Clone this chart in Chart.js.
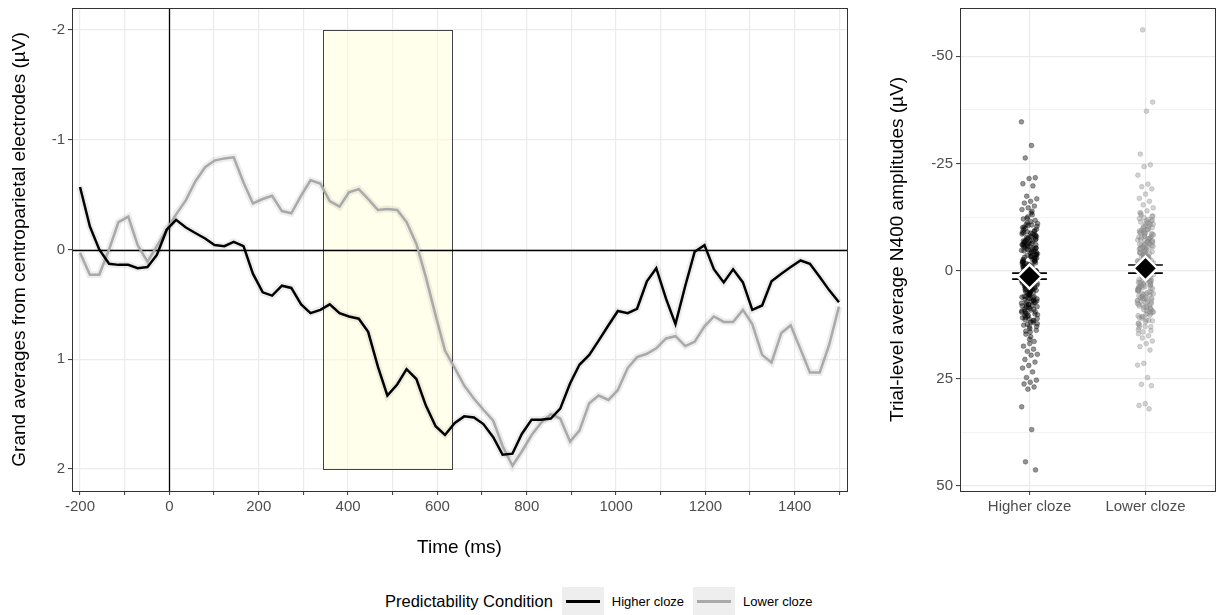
<!DOCTYPE html>
<html>
<head>
<meta charset="utf-8">
<title>N400 grand averages</title>
<script src="https://cdn.jsdelivr.net/npm/chart.js@4.4.0/dist/chart.umd.min.js"></script>
<style>
  body { margin: 0; background: #fff; font-family: "Liberation Sans", Arial, sans-serif; }
  #wrap { position: relative; width: 1225px; height: 615px; overflow: hidden; }
  #erpChart { position: absolute; left: 0; top: 0; }
  #trialChart { position: absolute; left: 870px; top: 0; }
  #legend { position: absolute; left: 385px; top: 587px; height: 28px; display: flex; align-items: center; color: #000; }
  #legend .title { font-size: 16.5px; margin-right: 9px; }
  #legend .key { width: 42px; height: 28px; background: #EEEEEE; position: relative; }
  #legend .key span { position: absolute; left: 4px; right: 4px; top: 13px; height: 2.5px; }
  #legend .lab { font-size: 13px; margin-left: 8px; margin-right: 9px; }
</style>
</head>
<body>
<div id="wrap">
  <canvas id="erpChart" width="860" height="570"></canvas>
  <canvas id="trialChart" width="355" height="570"></canvas>
  <div id="legend">
    <span class="title">Predictability Condition</span>
    <div class="key"><span style="background:#000"></span></div><span class="lab">Higher cloze</span>
    <div class="key"><span style="background:#A9A9A9"></span></div><span class="lab">Lower cloze</span>
  </div>
</div>
<script>
// ---- ERP panel data ----
const times = [-200, -178, -157, -135, -114, -92, -71, -49, -28, -6, 15, 37, 58, 80, 101, 123, 144, 166, 187, 209,
  230, 252, 273, 295, 316, 338, 359, 381, 402, 424, 445, 467, 488, 510, 531, 553, 574, 596, 617, 639,
  660, 682, 703, 725, 746, 768, 789, 811, 832, 854, 875, 897, 918, 940, 961, 983, 1004, 1026, 1047, 1069,
  1090, 1112, 1133, 1155, 1176, 1198, 1219, 1241, 1262, 1284, 1305, 1327, 1348, 1370, 1391, 1413, 1434, 1456, 1477, 1499]

const higherErp = [-0.57, -0.21, 0.0, 0.13, 0.14, 0.14, 0.17, 0.16, 0.05, -0.18, -0.27, -0.20, -0.15, -0.10, -0.04, -0.03, -0.07, -0.03, 0.22, 0.39,
  0.42, 0.33, 0.35, 0.50, 0.58, 0.55, 0.50, 0.58, 0.61, 0.63, 0.75, 1.07, 1.33, 1.23, 1.09, 1.18, 1.42, 1.61, 1.69, 1.58,
  1.52, 1.53, 1.59, 1.71, 1.87, 1.86, 1.68, 1.55, 1.55, 1.54, 1.45, 1.22, 1.05, 0.96, 0.83, 0.69, 0.56, 0.58, 0.54, 0.29,
  0.17, 0.45, 0.68, 0.33, 0.02, -0.04, 0.18, 0.30, 0.18, 0.30, 0.55, 0.51, 0.29, 0.22, 0.16, 0.10, 0.13, 0.25, 0.37, 0.48]

const lowerErp = [0.03, 0.23, 0.23, 0.0, -0.25, -0.30, -0.04, 0.11, -0.03, -0.18, -0.32, -0.45, -0.62, -0.75, -0.81, -0.83, -0.84, -0.61, -0.42, -0.46,
  -0.49, -0.35, -0.33, -0.49, -0.63, -0.60, -0.44, -0.39, -0.52, -0.55, -0.46, -0.36, -0.37, -0.36, -0.25, -0.05, 0.25, 0.60, 0.92, 1.08,
  1.24, 1.36, 1.46, 1.56, 1.79, 1.97, 1.84, 1.69, 1.58, 1.50, 1.54, 1.75, 1.65, 1.40, 1.33, 1.37, 1.28, 1.08, 0.98, 0.95,
  0.90, 0.81, 0.79, 0.88, 0.84, 0.70, 0.61, 0.66, 0.66, 0.55, 0.68, 0.96, 1.03, 0.76, 0.69, 0.91, 1.12, 1.12, 0.87, 0.52]

const xTicksErp = [-200, -100, 0, 100, 200, 300, 400, 500, 600, 700, 800, 900, 1000, 1100, 1200, 1300, 1400, 1500]
const yTicksErp = [-2, -1, 0, 1, 2]
const n400Window = [345, 633]
const windowAmp = [-2, 2]

// ---- trial-level panel data ----
const groups = ['Higher cloze', 'Lower cloze']
const higherTrials = [-34.7, -29.2, -26.3, -21.7, -21.5, -20.3, -19.8, -17.4, -16.8, -16.2, -15.8, -15.1, -14.7, -14.3,
  -13.9, 2.4, -6.1, 8.7, -0.4, 4.9, -11.2, 12.3, -3.3, 6.6, -8.4, 0.8, 10.9, -5.2, 3.1, -9.7, 14.2, -1.8, 7.4, -12.6,
  1.9, -4.5, 9.8, -7.3, 5.5, -2.7, 11.6, 0.2, -10.4, 15.3, -6.8, 3.8, -0.9, 8.1, -13.1, 6.0, -3.9, 13.4, -8.9, 2.7,
  -5.7, 10.2, -1.3, 4.4, -11.8, 7.9, -2.2, 1.1, -7.8, 12.9, -4.1, 5.9, -9.2, 0.5, 9.3, -6.4, 3.5, -0.1, 15.9, -12.1,
  6.9, -3.6, 11.1, -8.1, 2.1, -5.0, 8.4, -1.6, 4.1, -10.8, 13.8, -7.0, 1.5, -2.9, 10.6, -4.8, 7.0, -9.9, 0.0, 5.2,
  -6.2, 12.0, -0.6, 3.3, -11.5, 9.0, -3.1, 6.3, -8.6, 1.3, 14.7, -5.4, 4.7, -1.1, 8.9, -7.5, 2.9, -13.5, 11.3, -2.4,
  5.7, -10.1, 0.9, 7.7, -4.3, 3.0, -6.6, 16.4, -0.3, 9.6, -8.0, 4.2, -1.9, 13.0, -5.9, 2.2, -12.3, 6.5, -3.4, 10.4,
  -9.4, 1.7, -2.0, 8.0, -7.2, 4.5, -0.7, 12.6, -4.6, 5.1, -11.0, 3.6, -6.9, 9.5, -1.4, 0.4, -8.7, 7.2, -3.0, 11.9,
  -5.5, 2.6, -10.6, 6.1, -0.2, 14.0,
  -7.4, 3.4, -2.5, 6.8, -9.1, 0.7, 4.6, -5.8, 10.0, -1.5, 2.8, -6.9, 8.2, -3.7, 5.0, -10.2, 1.0, -0.5, 7.5, -4.4,
  3.9, -8.3, 11.2, -2.1, 6.2, -6.0, 0.3, 9.1, -3.2, 4.0, -7.7, 2.0, -1.0, 8.6, -5.3, 5.4, -9.6, 1.4, 12.4, -4.0,
  3.7, -0.8, 7.3, -6.5, 2.5, -2.6, 9.9, -8.0, 4.8, -1.2, 6.0, -4.9, 0.6, -10.7, 10.8, -3.0, 5.6, -7.0, 1.8, -0.2,
  8.3, -5.6, 3.2, -2.3, 7.8, -9.0, 4.3, -1.7, 0.0, 6.4, -4.7, 11.5, -6.3, 2.3, -3.5, 9.4, -7.9, 5.3, -0.9, 1.6,
  -5.1, 7.0, -8.8, 3.5, -2.2, 10.3, -6.1, 0.9, 4.9, -3.8,
  16.9, 17.5, 18.2, 18.7, 19.4, 19.6, 20.6, 21.2, 22.0, 22.6, 23.5, 24.8, 25.4, 25.9, 26.3, 27.0, 27.5, 31.6, 36.9, 44.4, 46.3]
const lowerTrials = [-56.1, -39.3, -37.2, -27.2, -24.7, -24.3, -22.3, -20.2, -19.6, -19.1, -17.9, -16.9, -16.2, -15.4, -14.7, -14.0,
  -13.4, 1.6, -7.1, 7.8, -1.4, 3.9, -11.9, 11.4, -4.3, 5.6, -9.3, -0.2, 9.9, -6.0, 2.2, -10.5, 13.2, -2.8, 6.5, -12.8,
  0.9, -5.3, 8.8, -8.2, 4.4, -3.5, 10.7, -0.8, -11.1, 12.6, -7.6, 2.9, -1.9, 7.1, -13.0, 5.0, -4.8, 12.1, -9.8, 1.8,
  -6.6, 9.2, -2.3, 3.4, -12.4, 6.9, -3.1, 0.3, -8.7, 11.8, -5.1, 4.8, -10.0, -0.5, 8.3, -7.3, 2.5, -1.0, 13.7, -12.0,
  6.0, -4.5, 10.1, -9.0, 1.2, -5.8, 7.5, -2.6, 3.1, -11.6, 12.9, -7.9, 0.6, -3.8, 9.6, -5.6, 6.2, -10.8, -0.9, 4.2,
  -7.0, 11.0, -1.6, 2.4, -12.2, 8.0, -4.0, 5.3, -9.6, 0.1, 13.9, -6.3, 3.7, -2.1, 7.9, -8.5, 1.9, -13.6, 10.3, -3.3,
  4.7, -11.3, 0.0, 6.7, -5.2, 2.0, -7.4, 14.2, -1.2, 8.6, -8.9, 3.2, -2.9, 12.3, -6.8, 1.3, -12.7, 5.4, -4.2, 9.4,
  -10.3, 0.8, -3.0, 7.0, -8.0, 3.6, -1.7, 11.5, -5.5, 4.1, -11.7, 2.7, -7.7, 8.5, -2.4, -0.4, -9.5, 6.3, -3.9, 10.8,
  -6.4, 1.5, -10.9, 5.1, -1.1, 13.0,
  -8.1, 2.6, -3.3, 5.9, -10.1, -0.1, 3.8, -6.4, 9.0, -2.2, 1.9, -7.8, 7.3, -4.6, 4.1, -11.0, 0.2, -1.3, 6.6, -5.2,
  3.0, -9.1, 10.4, -2.9, 5.2, -6.9, -0.6, 8.2, -4.1, 3.3, -8.4, 1.1, -1.8, 7.7, -6.1, 4.5, -10.4, 0.7, 11.6, -4.9,
  2.8, -1.5, 6.4, -7.2, 1.7, -3.4, 9.1, -8.8, 3.9, -2.0, 5.5, -5.7, -0.3, -11.4, 9.8, -3.7, 4.6, -7.5, 1.0, -0.9,
  7.4, -6.2, 2.3, -3.0, 6.9, -9.6, 3.5, -2.5, -0.7, 5.8, -5.4, 10.6, -7.0, 1.4, -4.3, 8.7, -8.6, 4.3, -1.6, 0.5,
  -5.9, 6.1, -9.3, 2.7, -2.7, 9.5, -6.7, 0.0, 4.0, -4.5,
  14.6, 15.1, 15.6, 16.3, 16.9, 17.6, 18.4, 21.5, 21.9, 24.8, 26.4, 26.7, 30.9, 31.3, 32.1]
const groupMeans = [1.3, -0.6]
const groupSeLow = [0.5, -1.4]
const groupSeHigh = [1.9, 0.5]
const trialTicks = [-50, -37.5, -25, -12.5, 0, 12.5, 25, 37.5, 50]

Chart.defaults.font.family = '"Liberation Sans", Arial, sans-serif'
Chart.defaults.color = '#4D4D4D'
Chart.defaults.animation = false

const tickFont = { size: 15 }
const titleFont = { size: 19 }

// window, zero lines for the ERP panel
const erpDecor = {
  id: 'erpDecor',
  beforeDatasetsDraw(chart) {
    const { ctx, chartArea: a, scales: { x, y } } = chart
    ctx.save()
    const x0 = Math.round(x.getPixelForValue(n400Window[0])) + 0.5
    const x1 = Math.round(x.getPixelForValue(n400Window[1])) + 0.5
    const y0 = Math.round(y.getPixelForValue(windowAmp[0])) + 0.5
    const y1 = Math.round(y.getPixelForValue(windowAmp[1])) + 0.5
    ctx.fillStyle = 'rgba(255,255,215,0.5)'
    ctx.fillRect(x0, y0, x1 - x0, y1 - y0)
    ctx.strokeStyle = '#444'
    ctx.lineWidth = 1
    ctx.strokeRect(x0, y0, x1 - x0, y1 - y0)
    ctx.strokeStyle = '#000'
    ctx.lineWidth = 1.3
    const yz = Math.round(y.getPixelForValue(0)) + 0.5
    const xz = Math.round(x.getPixelForValue(0)) + 0.5
    ctx.beginPath()
    ctx.moveTo(a.left, yz); ctx.lineTo(a.right, yz)
    ctx.moveTo(xz, a.top); ctx.lineTo(xz, a.bottom)
    ctx.stroke()
    ctx.restore()
  }
}

const panelBorder = {
  id: 'panelBorder',
  afterDraw(chart) {
    const { ctx, chartArea: a } = chart
    ctx.save()
    ctx.strokeStyle = '#333'
    ctx.lineWidth = 1
    ctx.strokeRect(Math.round(a.left) + 0.5, Math.round(a.top) + 0.5, Math.round(a.right - a.left), Math.round(a.bottom - a.top))
    ctx.restore()
  }
}

const noVPad = s => { s.paddingTop = 0; s.paddingBottom = 0 }

const higherPts = times.map((t, i) => ({ x: t, y: higherErp[i] }))
const lowerPts = times.map((t, i) => ({ x: t, y: lowerErp[i] }))

new Chart(document.getElementById('erpChart'), {
  type: 'line',
  data: {
    datasets: [
      { data: higherPts, borderColor: '#000', borderWidth: 2.5, pointRadius: 0, tension: 0, order: 0 },
      { data: lowerPts, borderColor: '#A9A9A9', borderWidth: 2.5, pointRadius: 0, tension: 0, order: 1 },
      // soft band behind each line
      { data: higherPts, borderColor: 'rgba(0,0,0,0.07)', borderWidth: 7, pointRadius: 0, tension: 0, order: 2 },
      { data: lowerPts, borderColor: 'rgba(0,0,0,0.07)', borderWidth: 7, pointRadius: 0, tension: 0, order: 3 }
    ]
  },
  options: {
    responsive: false,
    layout: { autoPadding: false, padding: { left: 0, top: 8, right: 13, bottom: 0 } },
    plugins: { legend: { display: false }, tooltip: { enabled: false } },
    scales: {
      x: {
        type: 'linear', min: -218, max: 1517,
        afterBuildTicks: s => { s.ticks = xTicksErp.map(v => ({ value: v })) },
        afterFit: s => { s.height = 79 },
        ticks: { font: tickFont, color: '#4D4D4D', padding: 3, maxRotation: 0, autoSkip: false,
          callback: v => (v % 200 === 0 ? String(v) : '') },
        grid: { color: '#EBEBEB', lineWidth: 1.2, tickLength: 4, tickColor: '#333', tickWidth: 1 },
        border: { display: false },
        title: { display: true, text: 'Time (ms)', color: '#000', font: titleFont, padding: { top: 0, bottom: 11 } }
      },
      y: {
        type: 'linear', min: -2.2, max: 2.2, reverse: true,
        afterBuildTicks: s => { s.ticks = yTicksErp.map(v => ({ value: v })) },
        afterFit: s => { s.width = 72; noVPad(s) },
        ticks: { font: tickFont, color: '#4D4D4D', padding: 3 },
        grid: { color: '#EBEBEB', lineWidth: 1.2, tickLength: 4, tickColor: '#333', tickWidth: 1 },
        border: { display: false },
        title: { display: true, text: 'Grand averages from centroparietal electrodes (µV)', color: '#000', font: titleFont, padding: { top: 8, bottom: 0 } }
      }
    }
  },
  plugins: [erpDecor, panelBorder]
})

// trial level panel
const jitter = i => (((i * 0.6180339887) % 1) - 0.5) * 0.14
const higherScatter = higherTrials.map((v, i) => ({ x: 1 + jitter(i), y: v }))
const lowerScatter = lowerTrials.map((v, i) => ({ x: 2 + jitter(i + 7), y: v }))
const whiskers = []
groupMeans.forEach((m, i) => {
  const g = i + 1
  whiskers.push({ x: g - 0.15, y: groupSeLow[i] }, { x: g + 0.15, y: groupSeLow[i] }, { x: g, y: null })
  whiskers.push({ x: g - 0.15, y: groupSeHigh[i] }, { x: g + 0.15, y: groupSeHigh[i] }, { x: g, y: null })
  whiskers.push({ x: g, y: groupSeLow[i] }, { x: g, y: groupSeHigh[i] }, { x: g, y: null })
})

new Chart(document.getElementById('trialChart'), {
  type: 'scatter',
  data: {
    datasets: [
      { data: groupMeans.map((m, i) => ({ x: i + 1, y: m })), pointStyle: 'rectRot', pointRadius: 12,
        backgroundColor: '#000', borderColor: '#fff', borderWidth: 2.5, order: 0 },
      { type: 'line', data: whiskers, borderColor: '#000', borderWidth: 1.6, pointRadius: 0, spanGaps: false, order: 1 },
      { data: lowerScatter, pointRadius: 2.4, backgroundColor: 'rgba(150,150,150,0.42)', borderColor: 'rgba(120,120,120,0.45)', borderWidth: 0.6, order: 2 },
      { data: higherScatter, pointRadius: 2.4, backgroundColor: 'rgba(0,0,0,0.42)', borderColor: 'rgba(0,0,0,0.5)', borderWidth: 0.6, order: 3 }
    ]
  },
  options: {
    responsive: false,
    layout: { autoPadding: false, padding: { left: 0, top: 8, right: 10, bottom: 0 } },
    plugins: { legend: { display: false }, tooltip: { enabled: false } },
    scales: {
      x: {
        type: 'linear', min: 0.4, max: 2.6,
        afterBuildTicks: s => { s.ticks = groups.map((g, i) => ({ value: i + 1 })) },
        afterFit: s => { s.height = 79 },
        ticks: { font: tickFont, color: '#4D4D4D', padding: 3, maxRotation: 0, autoSkip: false,
          callback: v => groups[Math.round(v) - 1] },
        grid: { color: '#EBEBEB', lineWidth: 1.2, tickLength: 4, tickColor: '#333', tickWidth: 1 },
        border: { display: false }
      },
      y: {
        type: 'linear', min: -61.2, max: 51.2, reverse: true,
        afterBuildTicks: s => { s.ticks = trialTicks.map(v => ({ value: v })) },
        afterFit: s => { s.width = 90; noVPad(s) },
        ticks: { font: tickFont, color: '#4D4D4D', padding: 3,
          callback: v => (v % 25 === 0 ? String(v) : '') },
        grid: {
          color: '#EBEBEB',
          lineWidth: c => (c.tick && c.tick.value % 25 === 0 ? 1.2 : 0.6),
          tickLength: 4,
          tickColor: c => (c.tick && c.tick.value % 25 === 0 ? '#333' : 'rgba(0,0,0,0)'),
          tickWidth: 1
        },
        border: { display: false },
        title: { display: true, text: 'Trial-level average N400 amplitudes (µV)', color: '#000', font: titleFont, padding: { top: 16, bottom: 0 } }
      }
    }
  },
  plugins: [panelBorder]
})
</script>
</body>
</html>
